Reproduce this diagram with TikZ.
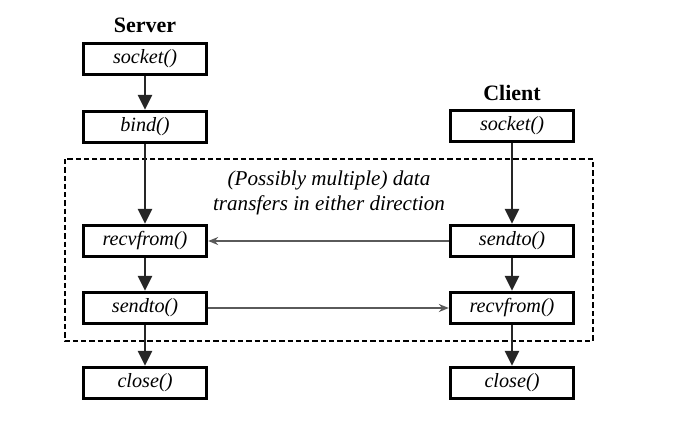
\documentclass[tikz,border=0pt]{standalone}
\usepackage{fontspec}
\setmainfont{Liberation Serif}
\usetikzlibrary{arrows.meta,positioning}
\definecolor{linegrey}{RGB}{90,90,90}
\tikzset{
    callbox/.style={draw, line width=1.9pt, minimum width=2.46cm,
                    minimum height=0.62cm, inner sep=0pt, font=\itshape\fontsize{11.5}{12}\selectfont,
                    fill=white},
    sidelabel/.style={font=\bfseries\fontsize{12.5}{14}\selectfont},
}
\begin{document}
\begin{tikzpicture}[
    varr/.style={-{Triangle[length=3mm,width=2.8mm]}, line width=1.5pt, black!85},
    harr/.style={-{Stealth[length=2mm,width=1.6mm]}, line width=0.7pt, linegrey},
]
    \useasboundingbox (0,0) rectangle (13.64,-8.54);
    % data transfer region
    \draw[line width=1.6pt, dash pattern=on 3pt off 1.7pt] (1.3,-3.18) rectangle (11.86,-6.82);
    \node[align=center, font=\itshape\fontsize{12}{14}\selectfont] (note) at (6.58,-3.86)
        {(Possibly multiple) data\\transfers in either direction};
    % server side
    \node[sidelabel] (server) at (2.9,-0.5) {Server};
    \node[callbox] (ssocket) at (2.9,-1.18) {socket()};
    \node[callbox] (sbind) at (2.9,-2.54) {bind()};
    \node[callbox] (srecv) at (2.9,-4.82) {recvfrom()};
    \node[callbox] (ssend) at (2.9,-6.16) {sendto()};
    \node[callbox] (sclose) at (2.9,-7.66) {close()};
    % client side
    \node[sidelabel] (client) at (10.24,-1.86) {Client};
    \node[callbox] (csocket) at (10.24,-2.52) {socket()};
    \node[callbox] (csend) at (10.24,-4.82) {sendto()};
    \node[callbox] (crecv) at (10.24,-6.16) {recvfrom()};
    \node[callbox] (cclose) at (10.24,-7.66) {close()};
    % flow
    \draw[varr] (ssocket) -- (sbind);
    \draw[varr] (sbind) -- (srecv);
    \draw[varr] (srecv) -- (ssend);
    \draw[varr] (ssend) -- (sclose);
    \draw[varr] (csocket) -- (csend);
    \draw[varr] (csend) -- (crecv);
    \draw[varr] (crecv) -- (cclose);
    % messages
    \draw[harr] (csend) -- (srecv);
    \draw[harr] (ssend) -- (crecv);
\end{tikzpicture}
\end{document}
